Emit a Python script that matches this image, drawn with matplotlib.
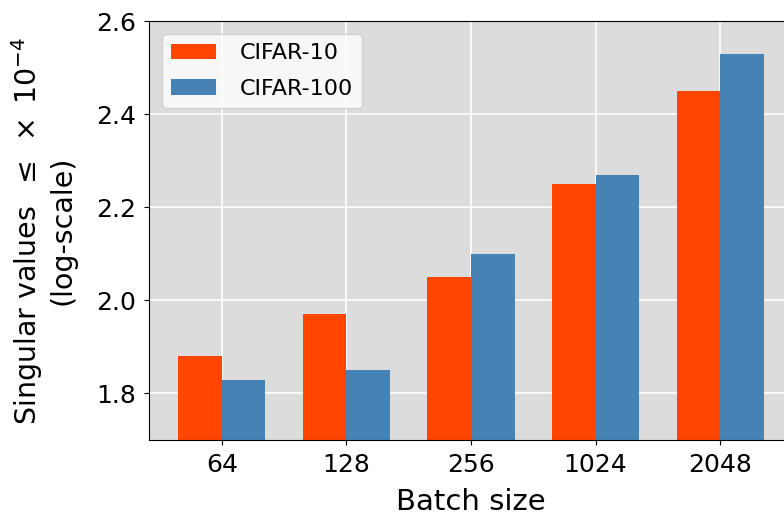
import numpy as np
import matplotlib
matplotlib.use("Agg")
import matplotlib.pyplot as plt

# 데이터
batch_sizes = ["64", "128", "256", "1024", "2048"]
cifar10 = [1.88, 1.97, 2.05, 2.25, 2.45]
cifar100 = [1.83, 1.85, 2.10, 2.27, 2.53]

fig = plt.figure(figsize=(7.84, 5.15), dpi=100)
# 오른쪽은 그림 밖으로 잘려 있음
ax = fig.add_axes([0.190, 0.1456, 0.8215, 0.8135])
ax.set_facecolor("#dcdcdc")
ax.set_axisbelow(True)
ax.grid(True, color="white", linewidth=1.2)

x = np.arange(len(batch_sizes))
w = 0.35
ax.bar(x - w / 2, cifar10, w, color="orangered", label="CIFAR-10")
ax.bar(x + w / 2, cifar100, w, color="steelblue", label="CIFAR-100")

ax.set_ylim(1.7, 2.6)
ax.set_yticks([1.8, 2.0, 2.2, 2.4, 2.6])
ax.set_xticks(x)
ax.set_xticklabels(batch_sizes)
ax.tick_params(labelsize=18, pad=6)
ax.set_xlabel("Batch size", fontsize=21, labelpad=8)
ax.set_ylabel("Singular values $\\;\\leq\\;\\times\\;10^{-4}$\n(log-scale)", fontsize=20.5,
              labelpad=14, linespacing=1.15)
ax.legend(loc="upper left", fontsize=16, labelspacing=0.7, handletextpad=1.1,
          borderaxespad=0.6)

fig.savefig("out.png", dpi=100)
